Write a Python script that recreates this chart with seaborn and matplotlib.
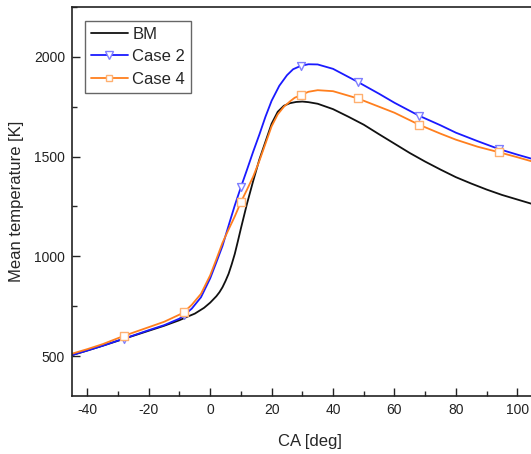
import matplotlib
matplotlib.use("Agg")
import matplotlib.pyplot as plt
import seaborn as sns
from matplotlib.lines import Line2D
from matplotlib.ticker import MultipleLocator

# ---- data ----
bm_ca = [-45, -40, -35, -30, -25, -20, -15, -10, -7.5, -5, -2, 0, 2, 3, 4, 5, 6, 7, 8, 9, 10,
         12, 14, 16, 18, 20, 22, 24, 26, 28, 30, 32, 35, 40, 45, 50, 55, 60, 65, 70, 75, 80,
         85, 90, 95, 100, 105, 110]
bm_t = [505, 528, 552, 577, 602, 627, 652, 680, 697, 713, 742, 768, 800, 820, 845, 877, 913,
        960, 1012, 1075, 1140, 1265, 1378, 1485, 1575, 1665, 1725, 1755, 1768, 1774, 1776,
        1773, 1765, 1738, 1700, 1660, 1612, 1565, 1518, 1475, 1435, 1397, 1365, 1335, 1308,
        1285, 1262, 1240]

case2_ca = [-45, -40, -35, -28, -20, -15, -10, -8.5, -6, -3, 0, 2, 4, 6.5, 8, 10, 12, 14,
            16, 18, 20, 22.5, 25, 27, 29.5, 32, 35, 40, 48, 55, 60, 68, 75, 80, 87, 94, 100,
            105, 110]
case2_t = [505, 528, 552, 588, 630, 655, 688, 705, 738, 795, 890, 970, 1052, 1180, 1255,
           1347, 1435, 1525, 1610, 1700, 1780, 1855, 1908, 1938, 1955, 1963, 1962, 1940,
           1875, 1815, 1770, 1705, 1657, 1620, 1578, 1538, 1510, 1488, 1465]

case4_ca = [-45, -40, -35, -28, -20, -15, -10, -8.5, -6, -3, 0, 2, 4, 6, 8, 10, 12, 14,
            16, 18, 20, 22, 24, 26, 27.5, 29.5, 32, 35, 40, 48, 55, 60, 68, 75, 80, 87, 94,
            100, 105, 110]
case4_t = [512, 535, 560, 602, 645, 672, 708, 721, 757, 812, 905, 985, 1068, 1135, 1200,
           1272, 1335, 1400, 1478, 1565, 1652, 1712, 1750, 1777, 1795, 1808, 1825, 1833,
           1828, 1792, 1750, 1720, 1660, 1615, 1585, 1550, 1522, 1497, 1475, 1455]

case2_mark_ca = [-28, -8.5, 10, 29.5, 48, 68, 94]
case2_mark_t = [588, 705, 1347, 1955, 1875, 1705, 1538]
case4_mark_ca = [-28, -8.5, 10, 29.5, 48, 68, 94]
case4_mark_t = [602, 721, 1272, 1808, 1792, 1660, 1522]

series_names = ["BM", "Case 2", "Case 4"]
x_label = "CA [deg]"
y_label = "Mean temperature [K]"

# ---- style ----
sns.set_style("ticks")
plt.rcParams["font.family"] = ["Liberation Sans", "DejaVu Sans"]
plt.rcParams["axes.unicode_minus"] = False

c_bm, c_2, c_4 = "#111111", "#1a1aff", "#ff7f1e"

fig = plt.figure(figsize=(5.31, 4.54), dpi=100)
ax = fig.add_axes([72 / 531, 1 - 396 / 454, 476 / 531, 389 / 454])

lw = 1.3
sns.lineplot(x=bm_ca, y=bm_t, ax=ax, color=c_bm, lw=lw, estimator=None, sort=False)
sns.lineplot(x=case2_ca, y=case2_t, ax=ax, color=c_2, lw=lw, estimator=None, sort=False)
sns.lineplot(x=case4_ca, y=case4_t, ax=ax, color=c_4, lw=lw, estimator=None, sort=False)

sns.scatterplot(x=case2_mark_ca, y=case2_mark_t, ax=ax, marker="v", s=32,
                facecolor="white", edgecolor="#7f7fff", linewidth=1.0, zorder=3)
sns.scatterplot(x=case4_mark_ca, y=case4_mark_t, ax=ax, marker="s", s=26,
                facecolor="white", edgecolor="#ffb070", linewidth=1.0, zorder=3)

ax.set_xlim(-45, 110)
ax.set_ylim(300, 2250)
ax.xaxis.set_major_locator(MultipleLocator(20))
ax.xaxis.set_minor_locator(MultipleLocator(10))
ax.yaxis.set_major_locator(MultipleLocator(500))
ax.yaxis.set_minor_locator(MultipleLocator(250))
ax.tick_params(which="major", direction="in", length=5.5, width=1.0, labelsize=10,
               colors="#222222", top=False, right=False, pad=5)
ax.tick_params(which="minor", direction="in", length=3.5, width=1.0, top=False, right=False)
for s in ax.spines.values():
    s.set_linewidth(1.2)
    s.set_color("#222222")

ax.set_xlabel(x_label, fontsize=12, labelpad=12)
ax.set_ylabel(y_label, fontsize=12, labelpad=7)

handles = [
    Line2D([], [], color=c_bm, lw=lw),
    Line2D([], [], color=c_2, lw=lw, marker="v", markersize=5.5,
           markerfacecolor="white", markeredgecolor="#7f7fff"),
    Line2D([], [], color=c_4, lw=lw, marker="s", markersize=5,
           markerfacecolor="white", markeredgecolor="#ffb070"),
]
leg = ax.legend(handles, series_names, loc="upper left", fontsize=12, frameon=True,
                fancybox=False, edgecolor="#666666", framealpha=1, handlelength=2.2,
                handletextpad=0.3, borderpad=0.35, labelspacing=0.45, borderaxespad=0,
                bbox_to_anchor=(13 / 476, 1 - 14 / 389))
leg.get_frame().set_linewidth(1.0)

fig.savefig("out.png", dpi=100)
